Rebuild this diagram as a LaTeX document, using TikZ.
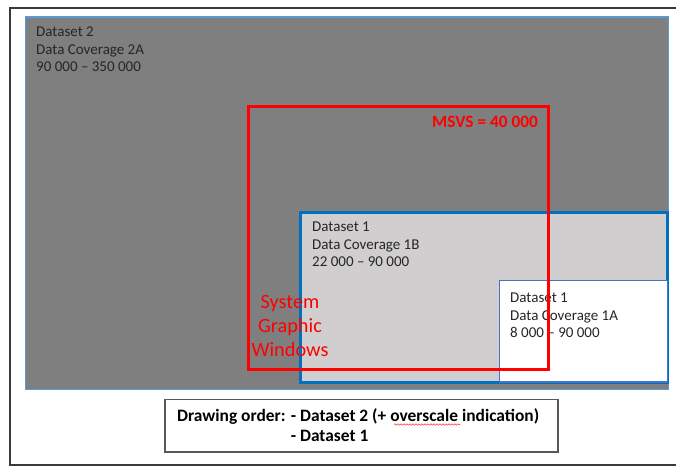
\documentclass[tikz,border=0pt]{standalone}
\usepackage{fontspec}
\setmainfont{Carlito}
\usepackage{tikz}
\usetikzlibrary{positioning,decorations.pathmorphing}
\definecolor{dsgray}{HTML}{7F7F7F}
\definecolor{dsedge}{HTML}{5B9BD5}
\definecolor{covfill}{HTML}{D0CECE}
\definecolor{covedge}{HTML}{0070C0}
\definecolor{cova}{HTML}{4472C4}
\definecolor{msvsred}{HTML}{FF0000}
\definecolor{framedark}{HTML}{3A3A3A}
\definecolor{inkdark}{HTML}{262626}
\tikzset{
  dsarea/.style={fill=dsgray, draw=dsedge, line width=1.4pt},
  covbig/.style={fill=covfill, draw=covedge, line width=3pt},
  covsmall/.style={fill=white, draw=cova, line width=1.4pt},
  msvsbox/.style={draw=msvsred, line width=3pt},
  frameline/.style={draw=framedark, line width=2pt},
  orderbox/.style={draw=framedark!85, line width=1.4pt},
  % base anchor of these sits on the last line
  covtxt/.style={font=\fontsize{15}{17.5}\selectfont, text=inkdark,
    align=left, inner sep=0pt, anchor=base west},
  redtxt/.style={text=msvsred, inner sep=0pt},
  ordertxt/.style={font=\fontsize{17.4}{19.5}\selectfont\bfseries, text=black,
    align=left, inner sep=0pt, anchor=base west},
  spellwave/.style={decorate, decoration={snake, amplitude=0.7pt, segment length=3pt},
    draw=msvsred!75, line width=0.6pt},
}
\begin{document}
\begin{tikzpicture}[x=1pt,y=-1pt]
  \useasboundingbox (0,0) rectangle (676,466);
  \fill[white] (0,0) rectangle (676,466);
  % page frame, its right side lies off the page
  \draw[frameline] (680,7.5) -- (9.5,7.5) -- (9.5,464.5) -- (680,464.5);
  % coverage areas, in drawing order
  \draw[dsarea] (25.5,17) rectangle (668.5,389.5);
  \draw[covbig] (300.5,212.5) rectangle (667.5,382);
  \draw[covsmall] (499.5,280.5) rectangle (667.5,382);
  \node[covtxt] (ds2) at (36,71.5) {Dataset 2\\Data Coverage 2A\\90 000 -- 350 000};
  \node[covtxt] (ds1b) at (312,266.5) {Dataset 1\\Data Coverage 1B\\22 000 -- 90 000};
  \node[covtxt] (ds1a) at (510,337.5) {Dataset 1\\Data Coverage 1A\\8 000 -- 90 000};
  % system graphic window
  \draw[msvsbox] (248,106) rectangle (548.5,369.5);
  \node[redtxt, font=\fontsize{17.3}{20}\selectfont\bfseries, anchor=base east]
    (msvs) at (538,127.5) {MSVS = 40 000};
  \node[redtxt, font=\fontsize{20.3}{24}\selectfont, align=center, anchor=base]
    (sgw) at (290,356.5) {System\\Graphic\\Windows};
  % legend
  \draw[orderbox] (165,399.5) rectangle (558,452);
  \node[ordertxt] (order) at (177,441)
    {Drawing order: - Dataset 2 (+ overscale indication)\\
     \phantom{Drawing order: }- Dataset 1};
  \draw[spellwave] (394,424.5) -- (460,424.5);
\end{tikzpicture}
\end{document}
